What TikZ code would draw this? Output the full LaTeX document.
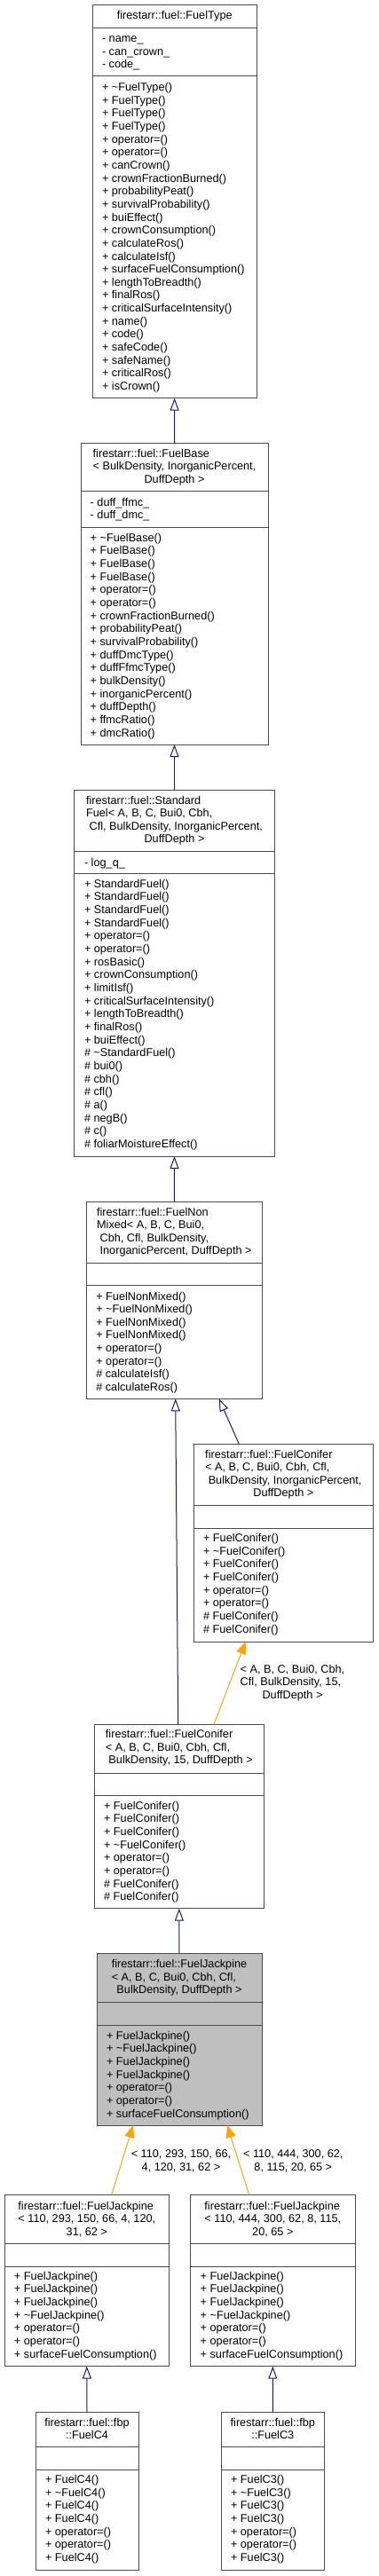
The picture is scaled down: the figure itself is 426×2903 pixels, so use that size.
\documentclass[tikz,border=0pt]{standalone}
\usepackage{fontspec}
\setmainfont{Liberation Sans}
\usetikzlibrary{arrows.meta,calc}
\definecolor{edgeblue}{RGB}{25,25,112}
\definecolor{tmplorange}{RGB}{255,165,0}
\newcommand\tld{\textasciitilde}
\newcommand\umlclass[8]{%
  \node[umlbox,fill=#8,minimum width=#4pt,minimum height={#5pt-#3pt}] (#1-t) at (#2,#3) {};
  \node[umlbox,fill=#8,minimum width=#4pt,minimum height={#6pt-#5pt}] (#1-a) at (#2,#5) {};
  \node[umlbox,fill=#8,minimum width=#4pt,minimum height={#7pt-#6pt}] (#1-m) at (#2,#6) {};
}
\begin{document}
\begin{tikzpicture}[x=1pt,y=-1pt,
  umlbox/.style={draw=black!70,line width=1pt,anchor=north west,inner sep=0pt,outer sep=0pt},
  txt/.style={inner sep=0pt,outer sep=0pt,font=\fontsize{12.7}{14.65}\selectfont},
  inh/.style={draw=edgeblue,line width=1pt,-{Triangle[length=14pt,width=10pt,fill=white]}},
  tmpl/.style={draw=tmplorange,line width=1pt,-{Triangle[length=14pt,width=11pt]}}]
\useasboundingbox (0,0) rectangle (426,2903);
\fill[white] (0,0) rectangle (426,2903);

% ---------- FuelType
\umlclass{ft}{104}{5.7}{185.3}{31.7}{86}{448.7}{white}
\node[txt,anchor=base] (ft-tt) at (196.7,21.6) {firestarr::fuel::FuelType};
\node[txt,anchor=base west] (ft-at) at (115,47.6) {\begin{tabular}[t]{@{}l@{}}- name\_\\- can\_crown\_\\- code\_\end{tabular}};
\node[txt,anchor=base west] (ft-mt) at (115,102.6) {\begin{tabular}[t]{@{}l@{}}
+ \tld FuelType()\\+ FuelType()\\+ FuelType()\\+ FuelType()\\+ operator=()\\+ operator=()\\
+ canCrown()\\+ crownFractionBurned()\\+ probabilityPeat()\\+ survivalProbability()\\
+ buiEffect()\\+ crownConsumption()\\+ calculateRos()\\+ calculateIsf()\\
+ surfaceFuelConsumption()\\+ lengthToBreadth()\\+ finalRos()\\+ criticalSurfaceIntensity()\\
+ name()\\+ code()\\+ safeCode()\\+ safeName()\\+ criticalRos()\\+ isCrown()\end{tabular}};

% ---------- FuelBase
\umlclass{fb}{91}{499}{211}{553.7}{594}{839}{white}
\node[txt,anchor=base] (fb-tt) at (196.5,515) {\begin{tabular}[t]{@{}l@{}}firestarr::fuel::FuelBase\\< BulkDensity, InorganicPercent,\\\multicolumn{1}{@{}c@{}}{DuffDepth >}\end{tabular}};
\node[txt,anchor=base west] (fb-at) at (101.7,570.3) {\begin{tabular}[t]{@{}l@{}}- duff\_ffmc\_\\- duff\_dmc\_\end{tabular}};
\node[txt,anchor=base west] (fb-mt) at (101.7,610.3) {\begin{tabular}[t]{@{}l@{}}
+ \tld FuelBase()\\+ FuelBase()\\+ FuelBase()\\+ FuelBase()\\+ operator=()\\+ operator=()\\
+ crownFractionBurned()\\+ probabilityPeat()\\+ survivalProbability()\\+ duffDmcType()\\
+ duffFfmcType()\\+ bulkDensity()\\+ inorganicPercent()\\+ duffDepth()\\+ ffmcRatio()\\+ dmcRatio()\end{tabular}};

% ---------- StandardFuel
\umlclass{sf}{83.7}{890}{225.6}{959.3}{984.3}{1303}{white}
\node[txt,anchor=base] (sf-tt) at (196.5,906) {\begin{tabular}[t]{@{}l@{}}firestarr::fuel::Standard\\Fuel< A, B, C, Bui0, Cbh,\\\ Cfl, BulkDensity, InorganicPercent,\\\multicolumn{1}{@{}c@{}}{DuffDepth >}\end{tabular}};
\node[txt,anchor=base west] (sf-at) at (95,976.3) {- log\_q\_};
\node[txt,anchor=base west] (sf-mt) at (95,1000.3) {\begin{tabular}[t]{@{}l@{}}
+ StandardFuel()\\+ StandardFuel()\\+ StandardFuel()\\+ StandardFuel()\\+ operator=()\\+ operator=()\\
+ rosBasic()\\+ crownConsumption()\\+ limitIsf()\\+ criticalSurfaceIntensity()\\+ lengthToBreadth()\\
+ finalRos()\\+ buiEffect()\\\# \tld StandardFuel()\\\# bui0()\\\# cbh()\\\# cfl()\\\# a()\\\# negB()\\\# c()\\
\# foliarMoistureEffect()\end{tabular}};

% ---------- FuelNonMixed
\umlclass{nm}{97}{1354}{198.7}{1423.3}{1448.7}{1576.3}{white}
\node[txt,anchor=base] (nm-tt) at (196.35,1370) {\begin{tabular}[t]{@{}l@{}}firestarr::fuel::FuelNon\\Mixed< A, B, C, Bui0,\\\ Cbh, Cfl, BulkDensity,\\\ InorganicPercent, DuffDepth >\end{tabular}};
\node[txt,anchor=base west] (nm-mt) at (108.3,1465) {\begin{tabular}[t]{@{}l@{}}
+ FuelNonMixed()\\+ \tld FuelNonMixed()\\+ FuelNonMixed()\\+ FuelNonMixed()\\+ operator=()\\+ operator=()\\
\# calculateIsf()\\\# calculateRos()\end{tabular}};

% ---------- FuelConifer (generic)
\umlclass{ca}{218}{1627.3}{202.7}{1696.3}{1722.3}{1850}{white}
\node[txt,anchor=base] (ca-tt) at (319.35,1643) {\begin{tabular}[t]{@{}l@{}}firestarr::fuel::FuelConifer\\< A, B, C, Bui0, Cbh, Cfl,\\\ BulkDensity, InorganicPercent,\\\multicolumn{1}{@{}c@{}}{DuffDepth >}\end{tabular}};
\node[txt,anchor=base west] (ca-mt) at (229,1737.6) {\begin{tabular}[t]{@{}l@{}}
+ FuelConifer()\\+ \tld FuelConifer()\\+ FuelConifer()\\+ FuelConifer()\\+ operator=()\\+ operator=()\\
\# FuelConifer()\\\# FuelConifer()\end{tabular}};

% ---------- FuelConifer (15)
\umlclass{cb}{106.7}{1943.3}{190.3}{1998.3}{2023.3}{2150.7}{white}
\node[txt,anchor=base] (cb-tt) at (201.85,1958.6) {\begin{tabular}[t]{@{}l@{}}firestarr::fuel::FuelConifer\\< A, B, C, Bui0, Cbh, Cfl,\\\ BulkDensity, 15, DuffDepth >\end{tabular}};
\node[txt,anchor=base west] (cb-mt) at (117,2039.3) {\begin{tabular}[t]{@{}l@{}}
+ FuelConifer()\\+ FuelConifer()\\+ FuelConifer()\\+ \tld FuelConifer()\\+ operator=()\\+ operator=()\\
\# FuelConifer()\\\# FuelConifer()\end{tabular}};

% ---------- FuelJackpine (template, highlighted)
\umlclass{fj}{109}{2201.7}{186}{2256.7}{2282}{2395}{black!25}
\node[txt,anchor=base] (fj-tt) at (202,2217.6) {\begin{tabular}[t]{@{}l@{}}firestarr::fuel::FuelJackpine\\< A, B, C, Bui0, Cbh, Cfl,\\\multicolumn{1}{@{}c@{}}{BulkDensity, DuffDepth >}\end{tabular}};
\node[txt,anchor=base west] (fj-mt) at (120,2298.3) {\begin{tabular}[t]{@{}l@{}}
+ FuelJackpine()\\+ \tld FuelJackpine()\\+ FuelJackpine()\\+ FuelJackpine()\\+ operator=()\\+ operator=()\\
+ surfaceFuelConsumption()\end{tabular}};

% ---------- FuelJackpine <110,293,...>
\umlclass{ja}{5}{2473.3}{185.7}{2528.3}{2554}{2666.7}{white}
\node[txt,anchor=base] (ja-tt) at (97.85,2490.3) {\begin{tabular}[t]{@{}l@{}}firestarr::fuel::FuelJackpine\\< 110, 293, 150, 66, 4, 120,\\\multicolumn{1}{@{}c@{}}{31, 62 >}\end{tabular}};
\node[txt,anchor=base west] (ja-mt) at (16,2569.3) {\begin{tabular}[t]{@{}l@{}}
+ FuelJackpine()\\+ FuelJackpine()\\+ FuelJackpine()\\+ \tld FuelJackpine()\\+ operator=()\\+ operator=()\\
+ surfaceFuelConsumption()\end{tabular}};

% ---------- FuelJackpine <110,444,...>
\umlclass{jb}{214.7}{2473.3}{185.3}{2528.3}{2554}{2666.7}{white}
\node[txt,anchor=base] (jb-tt) at (307.35,2490.3) {\begin{tabular}[t]{@{}l@{}}firestarr::fuel::FuelJackpine\\< 110, 444, 300, 62, 8, 115,\\\multicolumn{1}{@{}c@{}}{20, 65 >}\end{tabular}};
\node[txt,anchor=base west] (jb-mt) at (225.7,2569.3) {\begin{tabular}[t]{@{}l@{}}
+ FuelJackpine()\\+ FuelJackpine()\\+ FuelJackpine()\\+ \tld FuelJackpine()\\+ operator=()\\+ operator=()\\
+ surfaceFuelConsumption()\end{tabular}};

% ---------- FuelC4
\umlclass{c4}{40}{2718}{116}{2757.7}{2783.3}{2896.7}{white}
\node[txt,anchor=base] (c4-tt) at (98,2734.3) {\begin{tabular}[t]{@{}c@{}}firestarr::fuel::fbp\\::FuelC4\end{tabular}};
\node[txt,anchor=base west] (c4-mt) at (51,2798.6) {\begin{tabular}[t]{@{}l@{}}
+ FuelC4()\\+ \tld FuelC4()\\+ FuelC4()\\+ FuelC4()\\+ operator=()\\+ operator=()\\+ FuelC4()\end{tabular}};

% ---------- FuelC3
\umlclass{c3}{249.3}{2718}{116}{2757.7}{2783.3}{2896.7}{white}
\node[txt,anchor=base] (c3-tt) at (307.3,2734.3) {\begin{tabular}[t]{@{}c@{}}firestarr::fuel::fbp\\::FuelC3\end{tabular}};
\node[txt,anchor=base west] (c3-mt) at (260,2798.6) {\begin{tabular}[t]{@{}l@{}}
+ FuelC3()\\+ \tld FuelC3()\\+ FuelC3()\\+ FuelC3()\\+ operator=()\\+ operator=()\\+ FuelC3()\end{tabular}};

% ---------- connectors
\draw[inh] (fb-t.north) -- (ft-m.south);
\draw[inh] (sf-t.north) -- (fb-m.south);
\draw[inh] (nm-t.north) -- (sf-m.south);
\draw[inh] ([xshift=-1.15pt]cb-t.north) -- ([xshift=1.35pt]nm-m.south);
\draw[inh] ([xshift=51.3pt]ca-t.north west) -- ([xshift=149.7pt]nm-m.south west);
\draw[tmpl] ([xshift=134.3pt]cb-t.north west) -- ([xshift=58.7pt]ca-m.south west);
\draw[inh] (fj-t.north) -- (cb-m.south);
\draw[tmpl] ([xshift=120.7pt]ja-t.north west) -- ([xshift=41pt]fj-m.south west);
\draw[tmpl] ([xshift=66pt]jb-t.north west) -- ([xshift=147pt]fj-m.south west);
\draw[inh] (c4-t.north) -- (ja-m.south);
\draw[inh] (c3-t.north) -- (jb-m.south);

% ---------- edge labels
\node[txt,anchor=base] (lbl-cb) at (329.5,1885) {\begin{tabular}[t]{@{}l@{}}< A, B, C, Bui0, Cbh,\\Cfl, BulkDensity, 15,\\\multicolumn{1}{@{}c@{}}{DuffDepth >}\end{tabular}};
\node[txt,anchor=base] (lbl-ja) at (204,2431.6) {\begin{tabular}[t]{@{}c@{}}< 110, 293, 150, 66,\\4, 120, 31, 62 >\end{tabular}};
\node[txt,anchor=base] (lbl-jb) at (330.3,2431.6) {\begin{tabular}[t]{@{}c@{}}< 110, 444, 300, 62,\\8, 115, 20, 65 >\end{tabular}};
\end{tikzpicture}
\end{document}
